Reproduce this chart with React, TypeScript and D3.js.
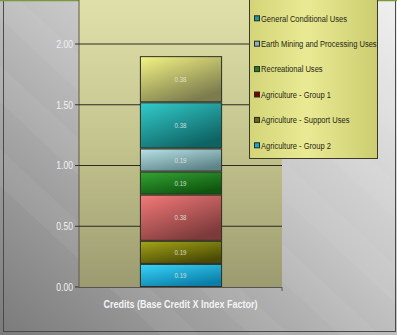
import React from "react";
import * as d3 from "d3";

const categories = ["Credits (Base Credit X Index Factor)"];
const seriesNames = [
  "Agriculture - Group 2",
  "Agriculture - Support Uses",
  "Agriculture - Group 1",
  "Recreational Uses",
  "Earth Mining and Processing Uses",
  "General Conditional Uses",
  "Other Uses",
];
const seriesValues = [0.19, 0.19, 0.38, 0.19, 0.19, 0.38, 0.38];
const seriesLight = ["#3ad4fa", "#a4a418", "#f47a7a", "#34a434", "#b8e2e8", "#34cccc", "#f4f484"];
const seriesDark = ["#0a7ea8", "#4a4a06", "#7e3a3a", "#0e560e", "#5e8488", "#0e6464", "#7c7c4e"];
const swatchColors = ["#12a8d8", "#6a6a08", "#800000", "#208020", "#88b4c0", "#1a9aa4", "#d8d860"];
const yTicks = [0, 0.5, 1.0, 1.5, 2.0];

const W = 397;
const H = 335;
const plotLeft = 79;
const plotRight = 282;
const plotBottom = 287;
const plotTop = 0;
const FONT = "'Liberation Sans', Arial, sans-serif";
const NARROW = 0.82;

function NText(props: {
  x: number;
  y: number;
  anchor?: string;
  size: number;
  fill: string;
  weight?: string;
  opacity?: number;
  children: React.ReactNode;
}) {
  return (
    <text
      transform={`translate(${props.x},${props.y}) scale(${NARROW},1)`}
      dy="0.36em"
      textAnchor={props.anchor || "start"}
      fontSize={props.size}
      fontWeight={props.weight}
      fill={props.fill}
      opacity={props.opacity}
    >
      {props.children}
    </text>
  );
}

export default function App() {
  const y = d3.scaleLinear().domain([0, 2]).range([plotBottom, 44]);
  const x = d3
    .scaleBand<string>()
    .domain(categories)
    .range([plotLeft, plotRight])
    .paddingInner(0)
    .paddingOuter(0.75);

  const stackData = [
    Object.fromEntries(seriesNames.map((n, i) => [n, seriesValues[i]])),
  ];
  const stack = d3.stack<any>().keys(seriesNames)(stackData as any);

  const legendX = 249;
  const legendBottom = 158;
  const legendStep = 25.4;
  const legendItems = seriesNames
    .map((n, i) => ({ name: n, i, cy: legendBottom - 12.7 - i * legendStep }))
    .filter((it) => it.cy > 6);

  return (
    <svg
      width={W}
      height={H}
      style={{ position: "absolute", left: 0, top: 0 }}
      fontFamily={FONT}
    >
      <defs>
        <linearGradient id="bg" x1="1" y1="0" x2="0" y2="1">
          <stop offset="0" stopColor="#f0f0f0" />
          <stop offset="0.45" stopColor="#c4c4c4" />
          <stop offset="1" stopColor="#7a7a7a" />
        </linearGradient>
        <linearGradient id="plotbg" x1="0" y1="0" x2="0" y2="1">
          <stop offset="0" stopColor="#e0e0aa" />
          <stop offset="0.5" stopColor="#c4c48e" />
          <stop offset="1" stopColor="#9c9b70" />
        </linearGradient>
        <linearGradient id="legbg" x1="0" y1="0" x2="1" y2="0">
          <stop offset="0" stopColor="#d4d478" />
          <stop offset="0.45" stopColor="#eaea94" />
          <stop offset="1" stopColor="#cccc70" />
        </linearGradient>
        {seriesNames.map((n, i) => (
          <linearGradient key={n} id={`seg${i}`} x1="0" y1="0" x2="0.6" y2="1">
            <stop offset="0" stopColor={seriesLight[i]} />
            <stop offset="1" stopColor={seriesDark[i]} />
          </linearGradient>
        ))}
      </defs>

      {/* background */}
      <rect x={0} y={0} width={W} height={H} fill="url(#bg)" />
      {[0, 1, 2, 3, 4, 5].map((k) => (
        <polygon
          key={k}
          points={`${-200 + k * 90},0 ${-160 + k * 90},0 ${200 + k * 90},${H} ${160 + k * 90},${H}`}
          fill="#ffffff"
          opacity={0.05}
        />
      ))}
      <rect x={3.5} y={-2} width={W - 5} height={H - 1.5} fill="none" stroke="#4a4a4a" strokeWidth={1} />
      <line x1={0} x2={W} y1={0.5} y2={0.5} stroke="#7a9a3a" strokeWidth={1.5} />

      {/* plot area */}
      <rect
        x={plotLeft}
        y={plotTop}
        width={plotRight - plotLeft}
        height={plotBottom - plotTop}
        fill="url(#plotbg)"
      />
      <line x1={plotLeft} x2={plotLeft} y1={plotTop} y2={plotBottom} stroke="#5a5a4a" strokeWidth={1} />

      {/* gridlines and y ticks */}
      {yTicks.map((t) => (
        <g key={t}>
          {t > 0 && (
            <line
              x1={plotLeft}
              x2={plotRight}
              y1={y(t)}
              y2={y(t)}
              stroke="#2a2a22"
              strokeWidth={1}
            />
          )}
          <line x1={plotLeft - 4} x2={plotLeft} y1={y(t)} y2={y(t)} stroke="#333" strokeWidth={1} />
          <NText x={plotLeft - 6} y={y(t)} anchor="end" size={10.5} fill="#f2f2f2">
            {t.toFixed(2)}
          </NText>
        </g>
      ))}
      <line x1={plotLeft} x2={plotRight} y1={plotBottom + 0.5} y2={plotBottom + 0.5} stroke="#555" strokeWidth={1} />
      <line x1={plotRight} x2={plotRight} y1={plotBottom} y2={plotBottom + 4} stroke="#555" strokeWidth={1} />

      {/* bars */}
      {stack.map((layer, i) =>
        layer.map((d, j) => {
          const cat = categories[j];
          const x0 = x(cat)!;
          const bw = x.bandwidth();
          const yTop = y(d[1]);
          const yBot = y(d[0]);
          return (
            <g key={`${i}-${j}`}>
              <rect
                x={x0 + 0.5}
                y={yTop + 0.5}
                width={bw}
                height={Math.max(0, yBot - yTop - 1)}
                fill={`url(#seg${i})`}
                stroke="#2e2e24"
                strokeWidth={1}
              />
              <NText
                x={x0 + bw / 2}
                y={(yTop + yBot) / 2}
                anchor="middle"
                size={7.5}
                fill="#e8e8e0"
                opacity={0.85}
              >
                {seriesValues[i].toFixed(2)}
              </NText>
            </g>
          );
        })
      )}

      {/* category label */}
      {categories.map((c) => (
        <NText
          key={c}
          x={x(c)! + x.bandwidth() / 2}
          y={304}
          anchor="middle"
          size={11}
          weight="bold"
          fill="#f4f4f4"
        >
          {c}
        </NText>
      ))}

      {/* legend */}
      <rect
        x={legendX + 0.5}
        y={-20}
        width={128}
        height={legendBottom + 20.5}
        fill="url(#legbg)"
        stroke="#3a3a2a"
        strokeWidth={1}
      />
      {legendItems.map((it) => (
        <g key={it.name}>
          <rect
            x={254.5}
            y={it.cy - 2.5}
            width={5}
            height={5}
            fill={swatchColors[it.i]}
            stroke="#2a2a2a"
            strokeWidth={1}
          />
          <NText x={261} y={it.cy} size={9.2} fill="#262616">
            {it.name}
          </NText>
        </g>
      ))}
    </svg>
  );
}
